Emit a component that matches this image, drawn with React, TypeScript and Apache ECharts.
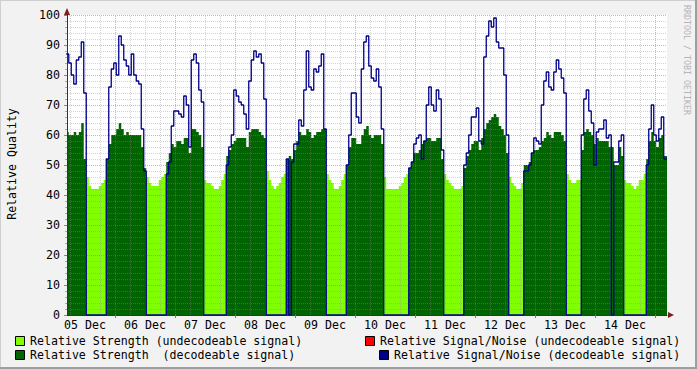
import React, { useEffect, useRef } from "react";
import * as echarts from "echarts";

// Hourly samples, hours counted from 05 Dec 00:00. First sample = hour 5.
const START_HOUR = 5;

// Relative Strength (all samples)
const strength = [
  61, 60, 60, 61, 60, 61, 64, 52,
  46, 43, 42, 42, 42, 43, 44, 45,
  52, 57, 60, 60, 62, 64, 62, 60, 61, 60, 60, 60, 60, 60, 56, 49,
  46, 44, 43, 43, 43, 45, 46, 47,
  51, 54, 57, 56, 58, 58, 57, 59, 59, 54, 62, 62, 61, 60, 56,
  45, 44, 44, 43, 42, 42, 43, 45, 47,
  53, 55, 57, 58, 59, 59, 59, 59, 56, 61, 62, 62, 62, 61, 60, 59,
  48, 45, 43, 42, 43, 44, 46, 47,
  52, 53, 52, 55, 58, 61, 60, 60, 62, 61, 59, 60, 61, 61, 62, 62,
  47, 45, 44, 42, 42, 43, 45, 47,
  50, 56, 59, 59, 57, 57, 60, 62, 63, 60, 59, 60, 60, 60, 57,
  46, 42, 42, 42, 42, 42, 43, 44, 46, 47,
  49, 51, 54, 54, 55, 57, 58, 59, 59, 58, 58, 59, 59, 52,
  47, 45, 44, 43, 42, 42, 42, 43,
  49, 53, 55, 57, 58, 58, 55, 59, 62, 64, 65, 66, 67, 66, 63, 62, 60, 54,
  46, 44, 43, 42, 42, 44,
  50, 50, 51, 54, 55, 55, 56, 58, 59, 61, 60, 59, 61, 61, 61, 60, 58,
  47, 45, 44, 44, 45, 45,
  55, 61, 62, 61, 60, 57, 59, 58, 58, 58, 58, 56, 56, 50, 50, 56, 53,
  45, 44, 44, 43, 42, 43, 45, 45, 47,
  52, 58, 61, 58, 56, 59, 60, 53, 53,
];

// Relative Signal/Noise (decodeable signal); 0 where nothing decoded
const snr = [
  87, 84, 80, 77, 85, 86, 91, 74,
  0, 0, 0, 0, 0, 0, 0, 0,
  52, 76, 82, 84, 80, 93, 90, 85, 83, 80, 87, 80, 78, 77, 62, 48,
  0, 0, 0, 0, 0, 0, 0, 0,
  47, 51, 63, 68, 68, 67, 66, 73, 70, 56, 85, 87, 84, 75, 71,
  0, 0, 0, 0, 0, 0, 0, 0, 0,
  50, 56, 60, 75, 73, 71, 70, 67, 62, 78, 85, 88, 86, 87, 84, 72,
  0, 0, 0, 0, 0, 0, 0, 0,
  52, 0, 51, 57, 57, 65, 63, 75, 88, 76, 75, 82, 81, 83, 87, 62,
  0, 0, 0, 0, 0, 0, 0, 0,
  50, 60, 74, 74, 66, 64, 82, 91, 93, 83, 79, 78, 82, 76, 62,
  0, 0, 0, 0, 0, 0, 0, 0, 0, 0,
  49, 51, 57, 59, 60, 52, 58, 70, 76, 70, 68, 75, 72, 55,
  0, 0, 0, 0, 0, 0, 0, 0,
  50, 54, 60, 66, 66, 69, 58, 57, 86, 93, 98, 96, 99, 91, 89, 89, 80, 60,
  0, 0, 0, 0, 0, 0,
  48, 48, 50, 54, 59, 58, 57, 70, 78, 81, 76, 75, 81, 85, 82, 79, 74,
  0, 0, 0, 0, 0, 0,
  60, 72, 75, 68, 64, 50, 61, 62, 62, 65, 59, 60, 0, 51, 51, 58, 60,
  0, 0, 0, 0, 0, 0, 0, 0, 0,
  50, 62, 70, 60, 58, 62, 66, 52, 52,
];

// Undecodeable periods (inclusive hour ranges)
const undecodeablePeriods = [
  [13, 20], [37, 44], [60, 68], [85, 92], [109, 116],
  [132, 141], [156, 163], [182, 187], [205, 210], [228, 236],
];

const dayLabels = ["05 Dec", "06 Dec", "07 Dec", "08 Dec", "09 Dec", "10 Dec", "11 Dec", "12 Dec", "13 Dec", "14 Dec"];

const X_MIN = 4.8;
const X_MAX = 244.8;

const FONT = "DejaVu Sans Mono";
const FS = 11.6;
const MAJOR = "rgba(222,79,79,0.5)";
const MINOR = "rgba(143,143,143,0.38)";
const LIGHT_GREEN = "#7fff00";
const DARK_GREEN = "#006400";
const BLUE = "#000088";
const RED = "#ff0000";

export default function App() {
  const ref = useRef<HTMLDivElement>(null);

  useEffect(() => {
    if (!ref.current) return;
    const chart = echarts.init(ref.current, null, { renderer: "svg" });

    const isUndec = (h: number) => undecodeablePeriods.some(([a, b]) => h >= a && h <= b);
    const xs = strength.map((_, i) => START_HOUR + i - 0.5);
    const withEnd = (arr: number[]) => {
      const d = arr.map((v, i) => [xs[i], v]);
      d.push([X_MAX, arr[arr.length - 1]]);
      return d;
    };
    const decData = withEnd(strength.map((v, i) => (isUndec(START_HOUR + i) ? 0 : v)));
    const undecData = withEnd(strength.map((v, i) => (isUndec(START_HOUR + i) ? v : 0)));
    const snrData = withEnd(snr);

    const noons = dayLabels.map((_, i) => 12 + 24 * i);
    const midnights = dayLabels.map((_, i) => 24 + 24 * i).filter((h) => h < X_MAX);
    const gridHours: number[] = [];
    for (let h = 6; h < X_MAX; h += 6) if (h > X_MIN) gridHours.push(h);
    // half-pixel nudge (0.5px = 0.2h) keeps the 1px dotted lines crisp
    const PX_NUDGE = 0.2;

    const legendItem = (x: number, y: number, color: string, text: string) => [
      { type: "rect", shape: { x: x + 0.5, y: y - 4.5, width: 9, height: 9 }, style: { fill: color, stroke: "#000", lineWidth: 1 } },
      { type: "text", x: x + 15, y, style: { text, fontFamily: FONT, fontSize: FS, fill: "#000", align: "left", verticalAlign: "middle" } },
    ];

    chart.setOption({
      animation: false,
      backgroundColor: "#f2f2f2",
      grid: { left: 67, top: 15, width: 600, height: 300, show: true, backgroundColor: "#ffffff", borderWidth: 0 },
      xAxis: {
        type: "value",
        min: X_MIN,
        max: X_MAX,
        z: 3,
        axisLine: { show: true, onZero: false, lineStyle: { color: "#333333", width: 1 } },
        axisTick: { show: true, customValues: midnights, length: 3, lineStyle: { color: "#de4f4f" } },
        axisLabel: {
          customValues: noons,
          formatter: (v: number) => dayLabels[Math.round((v - 12) / 24)] ?? "",
          fontFamily: FONT,
          fontSize: FS,
          color: "#000",
          margin: 4,
        },
        splitLine: { show: false },
      },
      yAxis: {
        type: "value",
        min: 0,
        max: 100,
        interval: 10,
        z: 3,
        axisLine: { show: true, lineStyle: { color: "#333333", width: 1 } },
        axisTick: { show: true, length: 3, lineStyle: { color: "#888" } },
        minorTick: { show: true, splitNumber: 5, length: 2, lineStyle: { color: "#aaa" } },
        axisLabel: { fontFamily: FONT, fontSize: FS, color: "#000", margin: 7 },
        splitLine: { show: true, lineStyle: { color: MAJOR, type: [1, 1], width: 1 } },
        minorSplitLine: { show: true, lineStyle: { color: MINOR, type: [1, 1], width: 1 } },
      },
      series: [
        {
          name: "Relative Strength (undecodeable signal)",
          type: "line",
          step: "end",
          data: undecData,
          symbol: "none",
          lineStyle: { width: 0, opacity: 0 },
          areaStyle: { color: LIGHT_GREEN, opacity: 1 },
          z: 1,
        },
        {
          name: "Relative Strength  (decodeable signal)",
          type: "line",
          step: "end",
          data: decData,
          symbol: "none",
          lineStyle: { width: 0, opacity: 0 },
          areaStyle: { color: DARK_GREEN, opacity: 1 },
          z: 1,
        },
        {
          name: "grid",
          type: "line",
          data: [],
          z: 3,
          markLine: {
            silent: true,
            symbol: ["none", "none"],
            label: { show: false },
            data: gridHours.map((h) => ({
              xAxis: h + PX_NUDGE,
              lineStyle: { color: h % 24 === 0 ? MAJOR : MINOR, type: [1, 1], width: 1 },
            })),
          },
        },
        {
          name: "Relative Signal/Noise (decodeable signal)",
          type: "line",
          step: "end",
          data: snrData,
          symbol: "none",
          lineStyle: { width: 1.3, color: BLUE },
          z: 5,
        },
      ],
      graphic: [
        { type: "rect", shape: { x: 0, y: 0, width: 697, height: 1 }, style: { fill: "#cfcfcf" } },
        { type: "rect", shape: { x: 0, y: 0, width: 1, height: 369 }, style: { fill: "#cfcfcf" } },
        { type: "rect", shape: { x: 0, y: 367, width: 697, height: 2 }, style: { fill: "#9e9e9e" } },
        { type: "rect", shape: { x: 695, y: 0, width: 2, height: 369 }, style: { fill: "#9e9e9e" } },
        { type: "polygon", shape: { points: [[64, 15], [70, 15], [67, 8]] }, style: { fill: "#7f1f1f" } },
        { type: "polygon", shape: { points: [[668, 312], [668, 318], [674, 315]] }, style: { fill: "#7f1f1f" } },
        {
          type: "text", x: 12, y: 164, rotation: Math.PI / 2,
          style: { text: "Relative Quality", fontFamily: FONT, fontSize: FS, fill: "#000", align: "center", verticalAlign: "middle" },
        },
        {
          type: "text", x: 687, y: 60, rotation: -Math.PI / 2,
          style: { text: "RRDTOOL / TOBI OETIKER", fontFamily: FONT, fontSize: 8.3, fill: "#b4b4b4", align: "center", verticalAlign: "middle" },
        },
        ...legendItem(15, 341, LIGHT_GREEN, "Relative Strength (undecodeable signal)"),
        ...legendItem(15, 355, DARK_GREEN, "Relative Strength  (decodeable signal)"),
        ...legendItem(365, 341, RED, "Relative Signal/Noise (undecodeable signal)"),
        ...legendItem(379, 355, BLUE, "Relative Signal/Noise (decodeable signal)"),
      ],
    });

    return () => chart.dispose();
  }, []);

  return <div ref={ref} style={{ position: "absolute", left: 0, top: 0, width: 697, height: 369 }} />;
}
